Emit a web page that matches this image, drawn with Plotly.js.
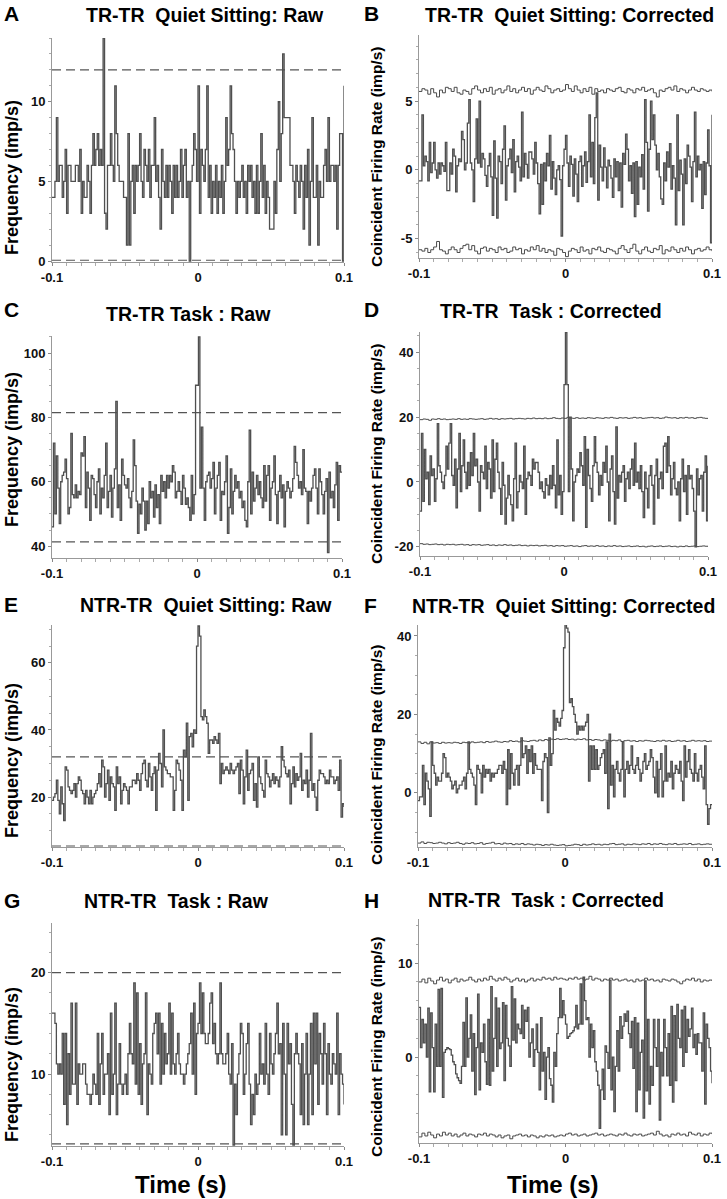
<!DOCTYPE html>
<html><head><meta charset="utf-8">
<script src="https://cdn.plot.ly/plotly-3.0.1.min.js"></script>
<style>html,body{margin:0;padding:0;background:#fff;}#chart{width:727px;height:1199px;}</style>
</head><body><div id="chart"></div>
<script>
// ---------- DATA ----------
const timeStart = -0.1, timeEnd = 0.1;
const xTickVals = [-0.1, 0, 0.1];
const xTickText = ['-0.1', '0', '0.1'];

// A: TR-TR Quiet Sitting Raw (imp/s), 1 ms bins
const histA = [
4,4,5,9,5,6,6,4,5,7,3,6,6,5,5,5,6,6,5,7,
3,5,4,4,6,5,3,6,8,6,7,8,6,7,6,14,3,2,6,6,
8,6,5,11,8,6,5,5,5,4,4,1,8,1,5,6,3,6,5,6,
8,5,4,7,6,5,7,4,6,6,9,5,6,4,2,7,5,4,6,4,
6,5,3,6,4,6,4,5,7,4,6,7,4,5,0,5,6,8,7,5,
11,3,7,6,5,7,11,4,6,3,5,4,6,3,5,4,6,3,5,9,
6,7,11,8,7,5,3,5,4,5,6,4,5,3,6,5,6,4,5,3,
6,3,5,8,4,6,3,5,4,2,2,2,5,3,7,10,5,8,13,9,
9,9,9,6,6,5,3,6,5,4,6,5,2,6,4,7,1,5,9,4,
4,6,1,5,4,4,6,7,5,9,5,6,6,5,6,2,6,8,8,0,
11];
const threshA = [12, 0.05];

// B: TR-TR Quiet Sitting Corrected
const histB = [
-0.8,-0.8,4.0,0.3,1.0,0.6,-0.8,2.0,-0.2,0.5,2.0,0.0,-0.6,0.5,-0.3,0.5,0.3,-0.1,2.0,-1.5,
-1.5,0.5,-0.3,1.5,1.0,-1.6,0.3,0.8,0.6,2.8,2.2,0.0,0.5,3.4,5.1,0.5,0.0,-2.3,0.8,3.7,
0.5,5.0,0.2,1.2,0.8,-0.4,-1.2,0.3,1.2,-0.5,-3.3,2.1,-0.6,-3.5,1.0,0.6,-1.0,1.5,3.2,-2.2,
0.3,0.8,1.5,-0.2,2.2,-1.6,0.6,1.0,0.2,-0.8,4.2,-0.5,1.2,0.4,-0.6,1.3,1.3,0.8,-0.3,2.0,
0.5,-1.0,-3.2,0.4,-2.5,0.5,-0.8,1.2,0.3,2.5,-1.4,0.6,-0.6,-1.8,0.0,0.3,-0.7,-4.8,0.3,1.5,
2.5,0.5,-1.2,1.0,0.4,-1.9,0.8,-0.3,-2.3,0.6,1.0,-1.2,0.3,1.3,-0.9,0.6,4.0,-0.5,2.0,-1.0,
3.8,5.6,-2.2,1.8,0.2,-0.8,1.6,0.2,-1.3,0.7,0.3,-0.6,-2.0,0.8,-0.5,0.6,-1.5,0.5,-2.7,1.2,
0.4,2.6,1.5,-0.8,0.3,-1.7,0.5,-3.4,0.6,-2.5,0.2,-0.5,1.1,-1.4,5.1,2.0,-3.0,1.5,5.0,2.2,
4.0,1.8,0.0,1.2,-0.5,-2.1,-2.5,0.5,-0.8,1.3,0.2,1.9,-1.4,0.3,-0.6,-4.0,4.0,-1.5,0.7,-0.3,
-4.0,0.8,-1.0,1.8,1.0,0.2,-2.3,0.6,4.2,-0.5,1.0,0.0,0.4,-2.8,0.6,-1.8,0.5,2.9,0.3,-5.3,
4.0];
const bandBUpper = [5.7,5.9,5.8,5.5,5.9,5.6,5.3,5.8,5.6,6.0,5.9,5.7,6.0,5.6,5.5,5.8,5.7,5.5,5.9,6.1,5.8,5.6,5.9,5.7,6.0,5.5,5.8,5.9,5.6,5.8,6.1,5.7,5.9,5.6,5.8,6.0,5.7,5.9,5.5,5.8,6.0,5.8,5.7,6.1,5.9,5.6,5.8,5.9,5.7,5.8,6.2,5.9,5.7,6.1,5.8,5.6,5.9,5.7,6.0,5.5,5.9,5.7,5.8,5.6,5.9,5.8,5.7,5.9,6.0,5.7,5.6,5.9,5.8,5.6,5.9,5.8,6.0,5.7,5.8,5.9,5.6,5.3,5.8,5.7,5.9,6.0,5.8,6.1,5.7,5.9,5.8,5.6,5.8,6.0,5.8,5.7,5.9,5.8,5.7,5.8,5.7];
const bandBLower = [-5.8,-5.9,-5.7,-6.0,-5.8,-5.6,-5.2,-5.8,-5.9,-6.1,-5.8,-5.6,-5.8,-6.0,-5.7,-5.5,-5.4,-5.8,-5.5,-5.9,-6.1,-5.7,-5.6,-5.9,-5.7,-5.8,-6.0,-5.6,-5.8,-5.7,-6.0,-5.9,-5.6,-5.8,-5.7,-6.1,-5.8,-5.9,-5.6,-5.8,-5.5,-5.9,-5.7,-6.0,-5.8,-5.9,-6.2,-5.7,-5.8,-6.0,-6.3,-5.9,-5.7,-5.8,-6.0,-5.6,-5.9,-5.8,-6.1,-5.7,-5.8,-5.6,-5.9,-6.0,-5.7,-5.8,-5.9,-6.1,-5.7,-5.5,-5.8,-6.0,-5.7,-5.4,-5.9,-6.1,-5.8,-5.6,-5.9,-6.0,-5.7,-5.8,-5.5,-6.1,-5.8,-5.9,-5.6,-5.8,-6.0,-5.7,-5.9,-5.6,-5.8,-6.1,-5.8,-5.7,-5.9,-5.8,-5.6,-5.8,-5.9];

// C: TR-TR Task Raw
const histC = [
46,72,50,68,58,47,60,62,63,67,61,50,52,75,56,55,59,55,57,56,
69,68,74,52,63,58,48,62,61,56,52,60,64,50,58,55,62,72,52,57,
62,49,58,64,85,52,59,48,67,62,59,58,61,55,52,57,73,65,54,44,
53,50,58,54,45,54,47,60,55,57,49,59,52,56,47,62,57,60,55,62,
58,62,60,65,63,55,57,60,57,53,62,58,53,55,52,48,62,50,56,90,
90,105,58,77,58,48,60,62,63,58,61,66,50,58,62,66,48,57,56,60,
68,44,52,64,50,57,62,58,60,55,57,52,54,48,46,60,76,50,63,54,
58,62,56,60,55,52,65,54,62,65,48,58,60,68,56,47,57,62,55,59,
46,57,60,58,55,57,61,71,66,62,58,60,56,70,58,57,47,57,54,58,
62,64,58,50,64,60,56,50,57,61,38,63,55,57,52,59,66,48,65,63,
63];
const threshC = [81.5, 41.3];

// D: TR-TR Task Corrected
const histD = [
-9,15,-6,10,1,3,-7,8,2,4,-6,1,18,5,3,0,-2,2,11,4,
12,18,2,-1,7,-8,4,15,-3,5,13,3,-2,6,-1,9,2,15,5,7,
0,-9,5,3,1,11,-2,6,4,-5,13,-3,7,12,3,-2,-10,6,-1,-13,
-5,2,-4,-7,-12,1,12,-8,-3,2,0,-2,11,-10,1,3,2,-1,7,4,
6,6,3,-2,0,-3,-5,1,-1,-4,2,-2,5,-1,-8,13,-4,2,-10,-3,
30,46,30,-3,20,4,-12,0,2,4,3,9,5,-1,14,-14,10,2,-2,-6,
5,14,6,3,-4,2,-1,6,3,11,0,-12,4,8,-3,-13,17,-5,2,0,
3,5,-6,1,3,-2,4,7,-1,12,0,3,-2,5,-3,-11,3,-2,-8,2,
5,-1,-13,2,7,-5,1,3,-2,11,12,3,14,5,-4,1,6,-2,-4,0,
-12,1,7,-3,2,-10,5,1,2,-2,-9,-20,4,-4,1,2,-9,3,8,-12,
5];
const bandDUpper = [19.2,19.4,19.3,19.0,19.4,19.3,19.5,19.3,19.4,19.2,19.3,19.4,19.3,19.5,19.3,19.4,19.3,19.5,19.4,19.3,19.4,19.5,19.3,19.4,19.6,19.4,19.5,19.3,19.5,19.4,19.5,19.6,19.4,19.5,19.6,19.5,19.4,19.6,19.5,19.7,19.5,19.6,19.5,19.7,19.5,19.6,19.8,19.6,19.5,19.7,19.6,19.9,19.7,19.6,19.8,19.6,19.7,19.6,19.8,19.7,19.6,19.8,19.7,19.6,19.8,19.7,19.9,19.7,19.6,19.8,19.7,19.8,19.6,19.7,19.9,19.7,19.8,19.6,19.7,19.8,19.9,19.7,19.8,19.6,19.7,20.0,19.8,19.7,19.8,19.6,19.8,19.7,19.9,19.7,19.8,19.6,19.8,19.9,19.7,19.6,19.5];
const bandDLower = [-19.0,-19.2,-19.1,-19.3,-19.2,-19.1,-19.3,-19.2,-19.4,-19.2,-19.3,-19.2,-19.4,-19.3,-19.2,-19.4,-19.3,-19.5,-19.3,-19.4,-19.3,-19.5,-19.4,-19.3,-19.5,-19.4,-19.6,-19.4,-19.5,-19.3,-19.5,-19.4,-19.6,-19.5,-19.4,-19.6,-19.5,-19.7,-19.5,-19.6,-19.5,-19.7,-19.6,-19.5,-19.7,-19.6,-19.8,-19.6,-19.7,-19.6,-19.8,-19.7,-19.6,-19.8,-19.7,-19.9,-19.7,-19.6,-19.8,-19.7,-19.8,-19.6,-19.8,-19.7,-19.9,-19.7,-19.8,-19.6,-19.8,-19.7,-19.9,-19.8,-19.7,-19.9,-19.8,-19.7,-19.9,-19.8,-20.0,-19.8,-19.7,-19.9,-19.8,-19.7,-19.9,-19.8,-19.7,-19.9,-19.8,-20.0,-19.8,-19.9,-19.7,-19.9,-19.8,-19.7,-19.9,-19.8,-19.7,-19.8,-19.7];

// E: NTR-TR Quiet Sitting Raw
const histE = [
19,20,21,25,19,15,23,18,13,29,28,23,22,21,22,24,20,24,26,25,
22,21,18,22,20,18,22,18,20,21,22,24,27,23,31,29,20,24,28,19,
26,24,23,16,29,24,26,18,22,24,23,22,18,23,23,25,25,24,27,25,
22,27,30,31,25,23,30,26,22,27,29,16,28,33,30,23,40,29,28,27,
27,26,26,16,22,31,30,28,25,16,34,32,42,19,38,39,35,40,39,65,
71,68,44,43,46,44,42,33,37,37,36,38,37,36,39,24,30,27,28,29,
28,27,30,28,27,28,29,30,21,31,28,18,26,34,22,27,28,30,19,24,
17,32,26,24,22,20,31,27,26,23,25,27,24,26,25,23,26,35,31,29,
27,26,28,18,24,29,23,27,25,26,33,22,25,24,28,20,25,39,22,24,
20,16,25,28,27,27,26,24,25,24,28,26,26,24,25,26,22,31,14,18,
17];
const threshE = [32, 5.4];

// F: NTR-TR Quiet Sitting Corrected
const histF = [
-2,-1,-1,7,-3,5,3,1,-6,13,7,5,2,4,3,3,5,10,9,4,
5,4,3,1,2,3,0,1,2,2,3,4,1,5,13,6,5,4,2,-3,
7,6,5,0,7,4,6,5,6,3,5,4,5,5,6,7,7,5,8,6,
-3,11,1,10,5,2,6,7,2,7,14,9,10,12,5,11,8,12,5,10,
7,6,6,6,-2,8,10,9,-5,14,7,10,21,16,19,18,17,19,21,37,
43,42,41,23,24,22,20,18,15,17,16,17,16,17,18,20,3,12,6,12,
6,11,6,7,9,10,11,5,13,-4,15,2,7,-1,6,8,5,3,6,13,
-1,6,8,5,7,12,6,5,7,9,6,3,5,8,10,6,7,8,11,9,
4,0,8,-1,6,10,-1,3,12,3,5,4,8,1,5,7,6,5,8,3,
-2,12,4,8,11,6,5,3,10,5,3,6,7,4,1,12,-3,-8,-4,-3,
-3];
const bandFUpper = [13.0,12.6,12.9,12.5,13.0,12.7,12.8,12.6,12.9,12.7,12.8,12.7,12.9,12.8,12.6,12.9,12.8,12.7,13.0,12.8,12.9,13.0,12.8,13.1,12.9,13.0,13.2,13.0,12.9,13.1,13.0,13.3,13.1,13.2,13.0,13.3,13.2,13.1,13.3,13.4,13.2,13.5,13.3,13.6,13.4,13.7,13.6,13.8,13.6,13.7,13.8,13.6,13.7,13.5,13.7,13.6,13.8,13.5,13.6,13.4,13.6,13.5,13.3,13.5,13.4,13.2,13.4,13.3,13.5,13.1,13.3,13.4,13.2,13.3,13.1,13.3,13.2,13.4,13.3,13.2,13.1,13.3,13.2,13.4,13.2,13.3,13.1,13.2,13.4,13.2,13.3,13.1,13.2,13.4,13.2,13.3,13.2,13.3,13.1,13.2,13.2];
const bandFLower = [-12.8,-12.5,-12.9,-12.6,-12.7,-12.9,-12.8,-12.6,-12.8,-13.0,-12.7,-12.9,-12.8,-12.6,-12.9,-13.1,-12.8,-12.9,-12.7,-13.0,-12.9,-12.7,-13.1,-12.9,-12.8,-12.6,-13.0,-12.9,-13.1,-12.8,-13.0,-12.9,-13.2,-13.0,-13.1,-12.9,-13.2,-13.0,-13.1,-13.3,-13.1,-13.2,-13.4,-13.2,-13.3,-13.1,-13.3,-13.4,-13.3,-13.2,-13.5,-13.4,-13.3,-13.1,-13.2,-13.4,-13.1,-13.3,-13.2,-13.0,-13.2,-13.1,-13.3,-13.1,-13.2,-13.0,-12.9,-13.2,-13.1,-13.0,-13.3,-13.1,-13.2,-13.0,-13.1,-13.2,-13.0,-13.1,-12.9,-13.2,-13.0,-13.1,-12.9,-13.1,-13.2,-13.0,-13.1,-12.9,-13.2,-13.1,-13.0,-13.1,-12.9,-13.2,-13.1,-13.0,-13.2,-13.1,-13.0,-13.1,-13.1];

// G: NTR-TR Task Raw
const histG = [
16,16,15,11,10,11,10,14,7,14,5,12,8,17,9,9,17,7,11,10,
10,11,11,9,8,8,7,8,10,9,8,14,7,11,14,8,10,10,12,6,
16,8,10,17,6,9,13,9,8,9,10,8,12,15,12,11,19,9,18,8,
13,7,11,12,18,6,11,10,9,14,15,16,12,16,9,15,10,14,11,12,
17,10,16,11,10,12,14,11,10,10,9,10,11,12,13,16,10,17,8,14,
15,19,14,18,14,13,13,14,17,18,13,15,12,11,12,19,12,11,11,12,
14,10,9,13,3,9,6,10,12,15,14,8,10,13,15,9,5,8,6,10,
8,9,14,10,11,9,15,10,8,14,11,10,12,14,17,12,13,4,15,10,
4,15,11,13,7,3,12,14,12,11,6,13,5,10,14,5,10,15,6,16,
11,16,7,14,12,9,15,12,6,13,10,9,12,11,10,16,6,12,10,9,
7];
const threshG = [20, 3.1];

// H: NTR-TR Task Corrected
const histH = [
5.3,1.0,4.0,1.5,3.5,0.0,5.2,-3.7,4.7,1.0,-3.7,3.5,-1.0,7.2,-1.0,7.3,-4.3,0.5,0.8,1.0,
0.9,0.8,0.2,-0.5,-0.8,-1.8,-2.2,-2.5,-2.8,-1.0,3.7,-1.0,6.3,0.0,2.0,4.5,-1.5,2.5,-4.0,1.0,
6.7,-3.5,1.5,0.5,3.5,-0.5,-2.9,4.0,-3.0,7.5,-1.5,2.0,6.3,-1.0,5.2,0.9,1.5,5.8,-2.5,5.5,
2.0,1.2,-1.0,7.5,1.8,6.2,1.5,3.5,3.0,2.5,5.5,2.0,5.0,3.8,5.3,0.0,1.5,3.0,-1.0,0.8,
3.5,0.5,-3.5,4.2,-1.5,0.5,-4.5,0.0,1.0,-2.3,-3.0,-4.8,0.5,-1.0,2.5,4.2,7.3,4.2,6.0,4.5,
3.5,2.0,2.2,2.5,2.6,2.8,3.2,5.5,3.0,3.5,7.8,3.5,8.5,6.0,4.0,4.2,0.0,3.5,1.0,2.8,
-0.5,-1.5,-3.0,-7.6,-3.5,-1.3,-4.5,1.2,0.5,-1.2,8.2,-3.5,0.0,-5.8,-1.0,2.8,-1.5,4.3,2.0,3.3,
4.6,3.8,4.9,2.5,1.0,3.8,-1.2,4.2,-5.8,3.6,-3.5,0.5,1.8,-6.5,8.1,-3.6,4.0,-5.0,-1.0,-3.0,
4.0,1.0,-1.0,4.0,-6.7,0.5,-2.0,4.0,1.0,-2.0,2.5,-3.0,5.4,-4.8,4.4,-2.5,5.6,2.0,1.0,5.0,
-1.0,5.4,0.5,4.0,2.2,3.0,5.2,1.0,2.4,0.3,2.5,1.5,1.5,-1.5,4.7,-5.0,3.5,2.0,1.0,-1.5,
-2.8];
const bandHUpper = [8.0,8.3,7.9,8.4,8.1,7.8,8.2,8.5,8.1,8.3,7.9,8.2,8.4,8.0,8.3,8.1,8.2,8.5,8.2,8.0,8.3,8.1,8.4,8.2,8.6,8.3,8.1,8.4,8.2,8.5,8.3,8.0,8.2,8.4,8.1,8.3,8.0,8.2,8.4,8.1,8.3,8.2,8.5,8.3,8.4,8.2,8.5,8.3,8.4,8.3,8.2,8.4,8.3,8.5,8.3,8.4,8.2,8.3,8.6,8.2,8.4,8.3,8.1,8.3,8.2,8.4,8.2,8.3,8.1,8.2,8.3,8.1,8.2,8.0,8.3,8.1,8.2,8.4,8.2,8.3,8.1,8.2,8.0,8.3,8.2,8.1,8.3,8.2,8.0,7.8,8.1,8.3,8.2,8.4,8.1,8.3,8.0,8.2,8.1,8.2,8.1];
const bandHLower = [-8.5,-8.1,-8.4,-8.0,-8.3,-8.6,-8.2,-8.4,-8.0,-8.3,-8.1,-8.4,-8.2,-8.5,-8.3,-8.1,-8.4,-8.2,-8.3,-8.5,-8.2,-8.3,-8.1,-8.4,-8.2,-8.3,-8.5,-8.3,-8.6,-8.4,-8.3,-8.7,-8.4,-8.3,-8.2,-8.4,-8.3,-8.5,-8.3,-8.4,-8.6,-8.4,-8.5,-8.3,-8.4,-8.3,-8.5,-8.4,-8.3,-8.4,-8.2,-8.1,-8.3,-8.2,-8.4,-8.3,-8.2,-8.4,-8.3,-8.2,-8.1,-8.3,-8.2,-8.4,-8.3,-8.2,-8.3,-8.4,-8.2,-8.3,-8.1,-8.3,-8.4,-8.2,-8.3,-8.2,-8.4,-8.3,-8.2,-8.1,-8.3,-7.9,-8.2,-8.4,-8.3,-8.5,-8.2,-8.3,-8.1,-8.3,-8.2,-8.4,-8.0,-8.2,-8.3,-8.1,-8.4,-8.2,-8.3,-8.1,-8.2];

// Titles and labels
const panelLetters = ['A','B','C','D','E','F','G','H'];
const panelTitles = [
  'TR-TR\u00a0 Quiet Sitting: Raw',
  'TR-TR\u00a0 Quiet Sitting: Corrected',
  'TR-TR Task : Raw',
  'TR-TR\u00a0 Task : Corrected',
  'NTR-TR\u00a0 Quiet Sitting: Raw',
  'NTR-TR\u00a0 Quiet Sitting: Corrected',
  'NTR-TR\u00a0 Task : Raw',
  'NTR-TR\u00a0 Task : Corrected'
];
const yTitleRaw = 'Frequency (imp/s)';
const yTitleCorr = 'Coincident Firing Rate (imp/s)';
const xTitle = 'Time (s)';
const yTicksA = [0,5,10], yTicksB = [-5,0,5], yTicksC = [40,60,80,100], yTicksD = [-20,0,20,40];
const yTicksE = [20,40,60], yTicksF = [0,20,40], yTicksG = [10,20], yTicksH = [0,10];

// ---------- LAYOUT / STYLE ----------
const W = 727, H = 1199;
const histColor = '#4f4f4f';
const font = 'Arial, "Liberation Sans", sans-serif';
function times(n){ return Array.from({length:n}, (_,i) => timeStart + (timeEnd - timeStart) * i / (n - 1)); }

const panels = [
 {hist:histA, thr:threshA, bands:null, yr:[-0.06,14.0], yt:yTicksA, ym:1, box:[52,344,38,262], yTitle:yTitleRaw, ytX:12, ytY:178,
  letter:[2,14], title:[205,15]},
 {hist:histB, thr:null, bands:[bandBUpper,bandBLower], yr:[-6.4,9.8], yt:yTicksB, ym:1, box:[419,712,35,258], yTitle:yTitleCorr, ytX:376, ytY:157,
  letter:[362,14], title:[569,15]},
 {hist:histC, thr:threshC, bands:null, yr:[36.3,105.3], yt:yTicksC, ym:5, box:[52,342,336,558], yTitle:yTitleRaw, ytX:12, ytY:450,
  letter:[2,310], title:[188,314]},
 {hist:histD, thr:null, bands:[bandDUpper,bandDLower], yr:[-22.8,46.2], yt:yTicksD, ym:5, box:[420,708,332,556], yTitle:yTitleCorr, ytX:376, ytY:454,
  letter:[362,310], title:[551,311]},
 {hist:histE, thr:threshE, bands:null, yr:[5.1,71.3], yt:yTicksE, ym:5, box:[52,344,625,847], yTitle:yTitleRaw, ytX:12, ytY:761,
  letter:[2,604], title:[206,605]},
 {hist:histF, thr:null, bands:[bandFUpper,bandFLower], yr:[-13.8,42.8], yt:yTicksF, ym:5, box:[418,712,625,847], yTitle:yTitleCorr, ytX:376, ytY:755,
  letter:[362,606], title:[563,606]},
 {hist:histG, thr:threshG, bands:null, yr:[2.9,24.9], yt:yTicksG, ym:2, box:[52,344,923,1146], yTitle:yTitleRaw, ytX:12, ytY:1065,
  letter:[2,900], title:[176,901]},
 {hist:histH, thr:null, bands:[bandHUpper,bandHLower], yr:[-9.15,14.7], yt:yTicksH, ym:2, box:[419,712,919,1143], yTitle:yTitleCorr, ytX:376, ytY:1047,
  letter:[362,900], title:[546,900]}
];

const traces = [];
const layout = {
  width: W, height: H, autosize: false,
  margin: {l:0, r:0, t:0, b:0},
  paper_bgcolor: '#fff', plot_bgcolor: 'rgba(0,0,0,0)',
  showlegend: false, font: {family: font, color: '#111'},
  annotations: []
};
const px = x => x / W, py = y => 1 - y / H;

panels.forEach((p, k) => {
  const s = k === 0 ? '' : String(k + 1);
  const xa = 'x' + s, ya = 'y' + s;
  if (p.bands) p.bands.forEach(b => traces.push({
    x: times(b.length), y: b, mode: 'lines', xaxis: xa, yaxis: ya, hoverinfo: 'skip',
    line: {shape: 'hv', color: '#4a4a4a', width: 1}
  }));
  if (p.thr) p.thr.forEach(t => traces.push({
    x: [timeStart, timeEnd], y: [t, t], mode: 'lines', xaxis: xa, yaxis: ya, hoverinfo: 'skip',
    line: {color: '#555', width: 1.2, dash: '9px,5px'}
  }));
  traces.push({
    x: times(p.hist.length), y: p.hist, mode: 'lines', xaxis: xa, yaxis: ya,
    line: {shape: 'hv', color: histColor, width: 1.3}
  });
  const b = p.box;
  layout['xaxis' + s] = {
    domain: [px(b[0]), px(b[1])], range: [timeStart, timeEnd], anchor: ya,
    tickmode: 'array', tickvals: xTickVals, ticktext: xTickText,
    ticks: 'outside', ticklen: 3, tickwidth: 1, tickcolor: '#888',
    showline: true, linecolor: '#999', linewidth: 1, showgrid: false, zeroline: false,
    tickfont: {family: font, size: 13, color: '#111', weight: 'bold'},
    minor: {tickmode: 'linear', tick0: timeStart, dtick: 0.01, ticks: 'outside', ticklen: 2.5, tickcolor: '#aaa', showgrid: false}
  };
  layout['yaxis' + s] = {
    domain: [py(b[3]), py(b[2])], range: p.yr, anchor: xa,
    tickmode: 'array', tickvals: p.yt, ticktext: p.yt.map(String),
    ticks: 'outside', ticklen: 3, tickwidth: 1, tickcolor: '#888',
    showline: true, linecolor: '#999', linewidth: 1, showgrid: false, zeroline: false,
    tickfont: {family: font, size: 13, color: '#111', weight: 'bold'},
    minor: {tickmode: 'linear', tick0: 0, dtick: p.ym, ticks: 'outside', ticklen: 2, tickcolor: '#aaa', showgrid: false}
  };
  layout.annotations.push(
    {text: panelLetters[k], x: px(p.letter[0]), y: py(p.letter[1]), xref: 'paper', yref: 'paper',
     xanchor: 'left', yanchor: 'middle', showarrow: false, font: {family: font, size: 21, color: '#000', weight: 'bold'}},
    {text: panelTitles[k], x: px(p.title[0]), y: py(p.title[1]), xref: 'paper', yref: 'paper',
     xanchor: 'center', yanchor: 'middle', showarrow: false, font: {family: font, size: 19.5, color: '#000', weight: 'bold'}},
    {text: p.yTitle, x: px(p.ytX), y: py(p.ytY), xref: 'paper', yref: 'paper', textangle: -90,
     xanchor: 'center', yanchor: 'middle', showarrow: false,
     font: {family: font, size: k % 2 === 0 ? 18 : 15.5, color: '#000', weight: 'bold'}}
  );
});
layout.annotations.push(
  {text: xTitle, x: px(181), y: py(1184), xref: 'paper', yref: 'paper', xanchor: 'center', yanchor: 'middle',
   showarrow: false, font: {family: font, size: 24, color: '#000', weight: 'bold'}},
  {text: xTitle, x: px(553), y: py(1184), xref: 'paper', yref: 'paper', xanchor: 'center', yanchor: 'middle',
   showarrow: false, font: {family: font, size: 24, color: '#000', weight: 'bold'}}
);

Plotly.newPlot('chart', traces, layout, {staticPlot: true, displayModeBar: false});
</script></body></html>
